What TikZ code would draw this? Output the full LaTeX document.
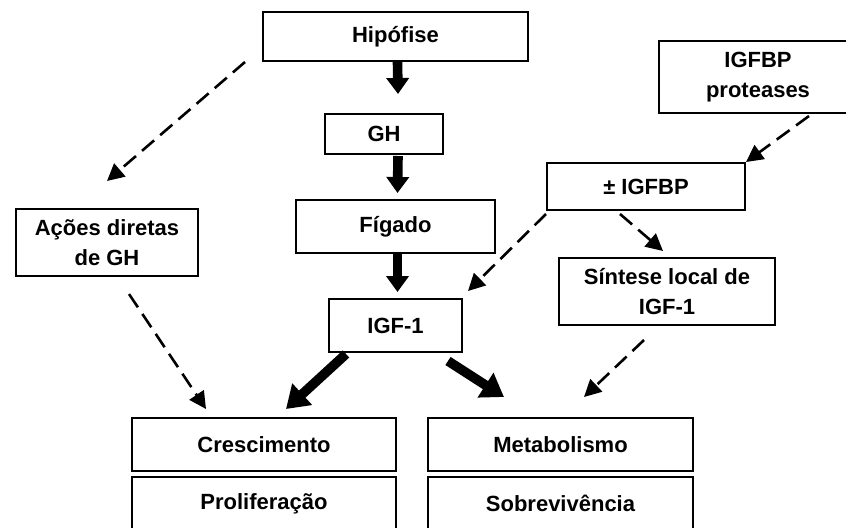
\documentclass[tikz,border=0pt]{standalone}
\usepackage{fontspec}
\setmainfont{Liberation Sans}
\usetikzlibrary{arrows.meta,calc}
\tikzset{
  box/.style={draw, line width=1pt, inner sep=0pt, align=center,
    font=\fontsize{11}{15}\selectfont\bfseries},
  fat/.style={line width=4.8pt, -{Triangle[length=8pt,width=11pt]}},
  fatdiag/.style={line width=4.8pt, -{Triangle[length=11pt,width=14pt]}},
  dashy/.style={line width=1.3pt, dash pattern=on 8pt off 4pt,
    -{Triangle[length=8.5pt,width=8.5pt]}}
}

\begin{document}
\begin{tikzpicture}[x=0.5pt, y=-0.5pt]
\useasboundingbox (0,0) rectangle (846,527);
\clip (0,0) rectangle (846,527);

% boxes
\node[box, minimum width=132.5pt, minimum height=24.5pt] (hipo) at (395.5,36.5) {Hipófise};
\node[box, minimum width=59pt, minimum height=20pt] (gh) at (384,134) {GH};
\node[box, minimum width=99.5pt, minimum height=26.5pt] (fig) at (395.5,226.5) {Fígado};
\node[box, minimum width=66.5pt, minimum height=26.5pt] (igf) at (395.5,325.5) {IGF-1};
\node[box, minimum width=91pt, minimum height=33.5pt] (acoes) at (107,242.5) {Ações diretas\\de GH};
\node[box, minimum width=99pt, minimum height=36pt] (prot) at (758,77) {IGFBP\\proteases};
\node[box, minimum width=99pt, minimum height=23.5pt] (ibp) at (646,186.5) {± IGFBP};
\node[box, minimum width=108pt, minimum height=33.5pt] (sint) at (667,291.5) {Síntese local de\\IGF-1};
\node[box, minimum width=132pt, minimum height=26.5pt] (cresc) at (264,444.5) {Crescimento};
\node[box, minimum width=132pt, minimum height=26.5pt] (prolif) at (264,503.5) {Proliferação};
\node[box, minimum width=132.5pt, minimum height=26.5pt] (metab) at (560.5,444.5) {Metabolismo};
\node[box, minimum width=132.5pt, minimum height=26.5pt] (sobrev) at (560.5,503.5) {Sobrevivência};

% main axis
\draw[fat] ($(hipo.south)+(2,0)$) -- ($(gh.north)+(14,-19)$);
\draw[fat] ($(gh.south)+(14,1)$) -- ($(fig.north)+(2,-6)$);
\draw[fat] ($(fig.south)+(2,0)$) -- ($(igf.north)+(2,-6)$);
\draw[fatdiag] ($(igf.south west)+(18,1)$) -- ($(cresc.north west)+(155,-8)$);
\draw[fatdiag] ($(igf.south east)+(-15,8)$) -- ($(metab.north west)+(77,-20)$);

% dashed paths
\draw[dashy] ($(hipo.south west)+(-17,0)$) -- ($(acoes.north)+(0,-27)$);
\draw[dashy] ($(acoes.south)+(22,17)$) -- ($(cresc.north west)+(75,-8)$);
\draw[dashy] ($(prot.south west)+(151,2)$) -- (ibp.north east);
\draw[dashy] ($(ibp.south west)+(0,3)$) -- ($(igf.north east)+(5,-7)$);
\draw[dashy] ($(ibp.south)+(-26,3)$) -- ($(sint.north)+(-4,-6)$);
\draw[dashy] ($(sint.south)+(-23,14)$) -- ($(metab.north west)+(157,-20)$);
\end{tikzpicture}
\end{document}
